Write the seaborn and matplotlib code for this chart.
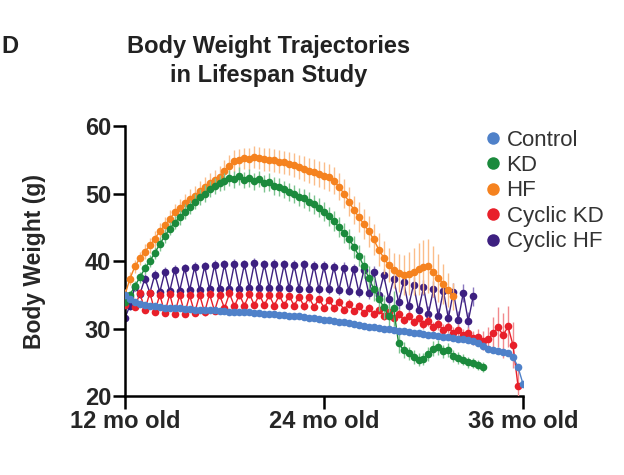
import numpy as np
import pandas as pd
import seaborn as sns
from matplotlib import pyplot as plt
from matplotlib.lines import Line2D

# Asse dei tempi: mesi di eta', un punto ogni 0.3 mesi
months = np.round(np.arange(12, 36.01, 0.3), 1)

control = [35.0, 34.4, 34.0, 33.7, 33.5, 33.4, 33.3, 33.2, 33.1, 33.1,
           33.0, 33.0, 32.9, 32.9, 32.8, 32.8, 32.7, 32.7, 32.7, 32.6,
           32.6, 32.5, 32.5, 32.5, 32.4, 32.4, 32.3, 32.3, 32.2, 32.2,
           32.1, 32.0, 32.0, 31.9, 31.8, 31.8, 31.7, 31.6, 31.5, 31.4,
           31.3, 31.2, 31.1, 31.0, 30.9, 30.8, 30.7, 30.5, 30.4, 30.2,
           30.2, 30.1, 30.0, 29.9, 29.8, 29.7, 29.6, 29.5, 29.4, 29.3,
           29.2, 29.1, 29.0, 28.9, 28.8, 28.7, 28.6, 28.5, 28.4, 28.3,
           28.1, 27.8, 27.4, 27.0, 26.8, 26.6, 26.5, 26.3, 25.8, 24.3,
           21.8]

kd = [34.0, 35.0, 36.3, 37.6, 38.9, 40.0, 41.2, 42.5, 43.7, 44.8,
      45.7, 46.5, 47.3, 48.0, 48.8, 49.5, 50.0, 50.7, 51.1, 51.6,
      51.8, 52.3, 52.1, 52.6, 52.0, 52.3, 51.8, 52.1, 51.5, 51.7,
      51.1, 51.0, 50.6, 50.2, 49.9, 49.5, 49.3, 48.8, 48.4, 47.9,
      47.3, 46.6, 45.9, 45.0, 44.2, 43.3, 42.1, 40.8, 39.2, 37.5,
      35.9, 34.4, 33.2, 31.8, 33.0, 27.8, 26.8, 26.3, 25.8, 25.4,
      25.5, 26.2, 27.0, 27.2, 26.6, 26.8, 25.9, 25.6, 25.4, 25.0,
      24.9, 24.6, 24.3]
kd_err = [0.5, 0.6, 0.7, 0.8, 0.8, 0.9, 0.9, 1.0, 1.0, 1.0,
          1.0, 1.1, 1.1, 1.1, 1.1, 1.2, 1.2, 1.2, 1.2, 1.2,
          1.3, 1.2, 1.3, 1.3, 1.2, 1.3, 1.3, 1.2, 1.3, 1.3,
          1.3, 1.3, 1.3, 1.3, 1.3, 1.3, 1.4, 1.4, 1.4, 1.4,
          1.4, 1.4, 1.5, 1.5, 1.5, 1.5, 1.6, 1.6, 1.7, 1.7,
          1.8, 1.8, 1.8, 1.9, 2.6, 1.5, 1.2, 1.0, 1.0, 0.9,
          0.9, 1.0, 1.1, 1.1, 1.0, 1.0, 0.9, 0.9, 0.8, 0.8,
          0.8, 0.7, 0.7]

hf = [35.0, 37.4, 39.2, 40.4, 41.4, 42.3, 43.3, 44.4, 45.3, 46.2,
      47.2, 47.9, 48.6, 49.2, 49.7, 50.4, 51.0, 51.6, 52.0, 52.5,
      53.3, 54.1, 54.8, 55.0, 55.2, 55.1, 55.4, 55.3, 55.1, 55.0,
      54.9, 54.7, 54.6, 54.4, 54.2, 53.9, 53.7, 53.4, 53.2, 52.9,
      52.6, 52.4, 51.9, 51.0, 50.0, 48.8, 47.6, 46.5, 45.5, 44.4,
      43.2, 41.7, 40.5, 39.4, 38.6, 38.2, 37.9, 38.1, 38.4, 38.8,
      39.1, 39.2, 38.4, 37.5, 36.6, 35.7, 34.8]
hf_err = [0.8, 0.9, 1.0, 1.0, 1.1, 1.1, 1.2, 1.2, 1.2, 1.3,
          1.3, 1.3, 1.4, 1.4, 1.4, 1.5, 1.5, 1.5, 1.5, 1.6,
          1.6, 1.6, 1.6, 1.6, 1.6, 1.6, 1.6, 1.6, 1.7, 1.7,
          1.7, 1.7, 1.7, 1.7, 1.8, 1.8, 1.8, 1.8, 1.9, 1.9,
          2.0, 2.0, 2.0, 2.0, 2.1, 2.1, 2.1, 2.2, 2.2, 2.3,
          2.3, 2.4, 2.4, 2.5, 2.6, 2.8, 3.0, 3.2, 3.5, 3.8,
          4.0, 4.0, 3.8, 3.5, 3.0, 2.5, 2.0]

cyc_kd = [33.5, 34.6, 33.2, 35.2, 32.8, 35.3, 32.5, 35.0, 32.3, 35.1,
          32.2, 35.0, 32.2, 34.9, 32.3, 35.0, 32.4, 35.1, 32.6, 35.0,
          33.0, 35.2, 33.3, 35.0, 33.4, 35.1, 33.5, 35.0, 33.5, 34.9,
          33.4, 34.9, 33.5, 34.8, 33.4, 34.7, 33.3, 34.6, 33.2, 34.4,
          33.1, 34.2, 33.0, 34.0, 32.8, 33.7, 32.6, 33.4, 32.3, 33.1,
          32.1, 32.8, 31.9, 32.5, 31.6, 32.2, 31.3, 31.9, 31.0, 31.5,
          30.6, 31.1, 30.2, 30.6, 29.8, 30.2, 29.4, 29.8, 29.0, 29.3,
          28.6, 28.8, 28.2, 28.4, 29.3, 30.2, 29.0, 30.3, 27.5, 21.5]
cyc_kd_err = [0.5, 0.6, 0.5, 0.6, 0.5, 0.6, 0.5, 0.6, 0.5, 0.6,
              0.5, 0.6, 0.5, 0.6, 0.5, 0.6, 0.5, 0.6, 0.5, 0.6,
              0.5, 0.6, 0.5, 0.6, 0.5, 0.6, 0.5, 0.6, 0.5, 0.6,
              0.5, 0.6, 0.5, 0.6, 0.5, 0.6, 0.5, 0.6, 0.5, 0.6,
              0.5, 0.6, 0.5, 0.6, 0.5, 0.6, 0.5, 0.6, 0.5, 0.6,
              0.6, 0.7, 0.6, 0.7, 0.6, 0.7, 0.6, 0.7, 0.6, 0.7,
              0.7, 0.8, 0.7, 0.8, 0.8, 0.8, 0.8, 0.9, 0.9, 0.9,
              1.0, 1.1, 1.4, 1.8, 2.4, 3.0, 3.3, 3.0, 3.4, 2.6]

cyc_hf = [31.6, 33.4, 36.2, 35.1, 37.4, 35.3, 38.0, 35.4, 38.4, 35.5,
          38.7, 35.6, 38.9, 35.7, 39.1, 35.7, 39.2, 35.8, 39.4, 35.8,
          39.5, 35.9, 39.6, 35.9, 39.5, 36.0, 39.7, 36.0, 39.5, 36.0,
          39.6, 36.0, 39.5, 36.0, 39.4, 35.9, 39.5, 35.9, 39.3, 35.8,
          39.2, 35.8, 39.1, 35.7, 39.0, 35.6, 38.8, 35.4, 38.6, 35.2,
          38.3, 34.9, 37.9, 34.4, 37.4, 33.9, 36.9, 33.3, 36.5, 32.7,
          36.1, 32.2, 35.8, 31.8, 35.6, 31.5, 35.4, 31.3, 35.3, 31.1,
          34.8]
cyc_hf_err = [0.5, 0.6, 0.6, 0.6, 0.7, 0.6, 0.7, 0.6, 0.7, 0.6,
              0.7, 0.6, 0.7, 0.6, 0.7, 0.6, 0.7, 0.6, 0.7, 0.6,
              0.7, 0.6, 0.7, 0.6, 0.7, 0.6, 0.7, 0.6, 0.7, 0.6,
              0.7, 0.6, 0.7, 0.6, 0.7, 0.7, 0.7, 0.7, 0.7, 0.7,
              0.8, 0.7, 0.8, 0.7, 0.8, 0.7, 0.8, 0.8, 0.8, 0.8,
              0.9, 0.9, 0.9, 0.9, 1.0, 1.0, 1.0, 1.0, 1.1, 1.1,
              1.1, 1.1, 1.2, 1.2, 1.2, 1.2, 1.3, 1.3, 1.3, 1.3,
              1.4]

groups = ["Control", "KD", "HF", "Cyclic KD", "Cyclic HF"]
colori = {"Control": "#4f81c9", "KD": "#1b8a3c", "HF": "#f5821f",
          "Cyclic KD": "#e8202a", "Cyclic HF": "#3d2080"}
colori_err = {"KD": "#7cc48f", "HF": "#fbbd8a",
              "Cyclic KD": "#f28a8e", "Cyclic HF": "#8b78c0"}

serie = {"Control": (control, None), "KD": (kd, kd_err), "HF": (hf, hf_err),
         "Cyclic KD": (cyc_kd, cyc_kd_err), "Cyclic HF": (cyc_hf, cyc_hf_err)}

# Tabella lunga per seaborn
righe = []
for g in groups:
    vals, err = serie[g]
    for i, v in enumerate(vals):
        righe.append({"month": months[i], "weight": v, "group": g,
                      "err": err[i] if err is not None else 0.0})
df = pd.DataFrame(righe)

sns.set_style("ticks")
plt.rcParams['font.family'] = ['Liberation Sans', 'DejaVu Sans']

fig = plt.figure(figsize=(6.24, 4.75), dpi=100)
ax = fig.add_axes([0.2003, 0.1663, 0.6378, 0.5684])

# ordine di disegno: il Control sopra a tutto
ordine = ["Cyclic HF", "Cyclic KD", "HF", "KD", "Control"]
for z, g in enumerate(ordine):
    sub = df[df["group"] == g]
    if g in colori_err:
        ax.errorbar(sub["month"], sub["weight"], yerr=sub["err"], fmt="none",
                    ecolor=colori_err[g], elinewidth=1.0, capsize=0,
                    zorder=2 * z + 1)
    sns.lineplot(data=sub, x="month", y="weight", color=colori[g],
                 marker="o", markersize=5.5, markeredgewidth=0,
                 linewidth=1.0, errorbar=None, legend=False, ax=ax,
                 zorder=2 * z + 2)

ax.set_xlim(12, 36)
ax.set_ylim(20, 60)
ax.set_xticks([12, 24, 36])
ax.set_xticklabels(["12 mo old", "24 mo old", "36 mo old"])
ax.set_yticks([20, 30, 40, 50, 60])
ax.set_xlabel("")
ax.set_ylabel("Body Weight (g)", fontsize=16.5, fontweight="bold", labelpad=28)
ax.tick_params(axis="both", labelsize=17, width=1.8, length=9, pad=1,
               color="black")
for lab in ax.get_xticklabels() + ax.get_yticklabels():
    lab.set_fontweight("bold")
for s in ["left", "bottom"]:
    ax.spines[s].set_linewidth(1.8)
    ax.spines[s].set_color("black")
sns.despine(ax=ax)

handles = [Line2D([], [], marker="o", linestyle="none", color=colori[g],
                  markersize=9, markeredgewidth=0) for g in groups]
ax.legend(handles, groups, loc="upper left", bbox_to_anchor=(0.875, 1.02),
          frameon=False, fontsize=16, handletextpad=0.1, labelspacing=0.2,
          handlelength=1.0, borderaxespad=0, labelcolor="#333333")

fig.text(0.431, 1 - 35 / 475, "Body Weight Trajectories\nin Lifespan Study",
         ha="center", va="top", fontsize=17, fontweight="bold",
         linespacing=1.35, color="#222222")
fig.text(0.002, 1 - 35 / 475, "D", ha="left", va="top", fontsize=17,
         fontweight="bold", color="#222222")

fig.savefig("out.png", dpi=100)
